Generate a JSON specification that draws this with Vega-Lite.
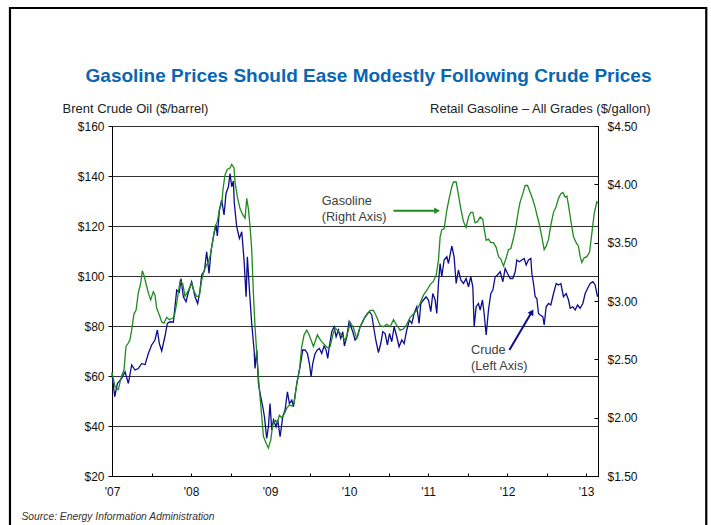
{
  "$schema": "https://vega.github.io/schema/vega-lite/v6.json",
  "width": 486,
  "height": 350,
  "autosize": {"type": "none"},
  "padding": {"left": 112, "top": 126, "right": 113, "bottom": 49},
  "background": "white",
  "config": {
    "font": "Liberation Sans",
    "view": {"stroke": "#000", "strokeWidth": 1},
    "axis": {
      "labelFont": "Liberation Sans",
      "labelFontSize": 12,
      "labelColor": "#111",
      "domainColor": "#000",
      "tickColor": "#000",
      "titleFont": "Liberation Sans",
      "titleFontWeight": "normal",
      "titleFontSize": 13,
      "titleColor": "#222"
    }
  },
  "title": {
    "text": "Gasoline Prices Should Ease Modestly Following Crude Prices",
    "font": "Liberation Sans",
    "fontSize": 19,
    "fontWeight": "bold",
    "color": "#0a66b2",
    "anchor": "middle",
    "frame": "group",
    "dx": 13.5,
    "offset": -79
  },
  "datasets": {
    "crude": [
      {"t": 2007.0, "usd": 61}, {"t": 2007.034, "usd": 51.7}, {"t": 2007.068, "usd": 57}, {"t": 2007.122, "usd": 59},
      {"t": 2007.165, "usd": 61.7}, {"t": 2007.207, "usd": 57}, {"t": 2007.249, "usd": 64.4}, {"t": 2007.291, "usd": 62.4},
      {"t": 2007.333, "usd": 63}, {"t": 2007.376, "usd": 65}, {"t": 2007.418, "usd": 64.5}, {"t": 2007.46, "usd": 69},
      {"t": 2007.502, "usd": 72.4}, {"t": 2007.544, "usd": 74.4}, {"t": 2007.574, "usd": 78.4}, {"t": 2007.599, "usd": 73},
      {"t": 2007.629, "usd": 70}, {"t": 2007.671, "usd": 76}, {"t": 2007.7, "usd": 81}, {"t": 2007.734, "usd": 81.7},
      {"t": 2007.776, "usd": 81.5}, {"t": 2007.797, "usd": 87.7}, {"t": 2007.819, "usd": 94.4}, {"t": 2007.852, "usd": 93.5},
      {"t": 2007.873, "usd": 99}, {"t": 2007.903, "usd": 91.7}, {"t": 2007.937, "usd": 89.7}, {"t": 2007.966, "usd": 93.4},
      {"t": 2008.008, "usd": 97.7}, {"t": 2008.051, "usd": 91.7}, {"t": 2008.084, "usd": 89}, {"t": 2008.114, "usd": 94.4},
      {"t": 2008.135, "usd": 100.4}, {"t": 2008.169, "usd": 102}, {"t": 2008.198, "usd": 109.7}, {"t": 2008.228, "usd": 101},
      {"t": 2008.253, "usd": 110}, {"t": 2008.283, "usd": 115.7}, {"t": 2008.316, "usd": 120.4}, {"t": 2008.333, "usd": 116},
      {"t": 2008.359, "usd": 126.4}, {"t": 2008.388, "usd": 130.4}, {"t": 2008.418, "usd": 124.4}, {"t": 2008.443, "usd": 133},
      {"t": 2008.473, "usd": 135.7}, {"t": 2008.494, "usd": 141}, {"t": 2008.515, "usd": 135.7}, {"t": 2008.536, "usd": 138},
      {"t": 2008.548, "usd": 129}, {"t": 2008.578, "usd": 119.7}, {"t": 2008.612, "usd": 115}, {"t": 2008.642, "usd": 117.7},
      {"t": 2008.671, "usd": 106.4}, {"t": 2008.697, "usd": 91.7}, {"t": 2008.713, "usd": 107.7}, {"t": 2008.739, "usd": 94.4},
      {"t": 2008.768, "usd": 81}, {"t": 2008.798, "usd": 70.4}, {"t": 2008.81, "usd": 63}, {"t": 2008.832, "usd": 70.4},
      {"t": 2008.853, "usd": 57}, {"t": 2008.882, "usd": 51.7}, {"t": 2008.908, "usd": 47.7}, {"t": 2008.929, "usd": 43.7},
      {"t": 2008.958, "usd": 35}, {"t": 2008.979, "usd": 39.7}, {"t": 2009.0, "usd": 49}, {"t": 2009.021, "usd": 38.4},
      {"t": 2009.043, "usd": 42.4}, {"t": 2009.076, "usd": 39.7}, {"t": 2009.097, "usd": 42.4}, {"t": 2009.127, "usd": 35.7},
      {"t": 2009.161, "usd": 43.7}, {"t": 2009.19, "usd": 46.4}, {"t": 2009.22, "usd": 53.7}, {"t": 2009.245, "usd": 49},
      {"t": 2009.275, "usd": 50.4}, {"t": 2009.296, "usd": 47.7}, {"t": 2009.317, "usd": 52.4}, {"t": 2009.346, "usd": 58.4},
      {"t": 2009.38, "usd": 63.7}, {"t": 2009.414, "usd": 70.4}, {"t": 2009.443, "usd": 70.4}, {"t": 2009.473, "usd": 69},
      {"t": 2009.498, "usd": 65}, {"t": 2009.519, "usd": 59.7}, {"t": 2009.54, "usd": 65}, {"t": 2009.57, "usd": 69},
      {"t": 2009.599, "usd": 70.4}, {"t": 2009.625, "usd": 71}, {"t": 2009.654, "usd": 69}, {"t": 2009.684, "usd": 72},
      {"t": 2009.709, "usd": 70.4}, {"t": 2009.73, "usd": 67}, {"t": 2009.751, "usd": 72}, {"t": 2009.781, "usd": 77.7},
      {"t": 2009.81, "usd": 79.7}, {"t": 2009.836, "usd": 75.7}, {"t": 2009.865, "usd": 78.4}, {"t": 2009.895, "usd": 75},
      {"t": 2009.92, "usd": 77.7}, {"t": 2009.941, "usd": 72}, {"t": 2009.971, "usd": 75.7}, {"t": 2010.0, "usd": 81.7},
      {"t": 2010.047, "usd": 77.7}, {"t": 2010.076, "usd": 74.4}, {"t": 2010.106, "usd": 75.7}, {"t": 2010.14, "usd": 79.7},
      {"t": 2010.173, "usd": 81.7}, {"t": 2010.203, "usd": 83.7}, {"t": 2010.232, "usd": 85}, {"t": 2010.258, "usd": 85.7},
      {"t": 2010.287, "usd": 84.4}, {"t": 2010.317, "usd": 78.4}, {"t": 2010.342, "usd": 73.7}, {"t": 2010.372, "usd": 69.4},
      {"t": 2010.401, "usd": 73}, {"t": 2010.427, "usd": 77.7}, {"t": 2010.456, "usd": 77}, {"t": 2010.486, "usd": 72.4},
      {"t": 2010.511, "usd": 77}, {"t": 2010.54, "usd": 73.7}, {"t": 2010.57, "usd": 79.7}, {"t": 2010.604, "usd": 75.7},
      {"t": 2010.633, "usd": 71.7}, {"t": 2010.667, "usd": 74.4}, {"t": 2010.697, "usd": 73}, {"t": 2010.73, "usd": 78.4},
      {"t": 2010.764, "usd": 82.4}, {"t": 2010.794, "usd": 81}, {"t": 2010.823, "usd": 85}, {"t": 2010.857, "usd": 87.7},
      {"t": 2010.886, "usd": 81}, {"t": 2010.908, "usd": 89}, {"t": 2010.941, "usd": 90.4}, {"t": 2010.975, "usd": 91.7},
      {"t": 2011.005, "usd": 90.4}, {"t": 2011.034, "usd": 85.7}, {"t": 2011.059, "usd": 93}, {"t": 2011.089, "usd": 90.4},
      {"t": 2011.11, "usd": 85}, {"t": 2011.131, "usd": 97}, {"t": 2011.152, "usd": 105}, {"t": 2011.173, "usd": 99.7},
      {"t": 2011.203, "usd": 106.4}, {"t": 2011.237, "usd": 107.7}, {"t": 2011.258, "usd": 105}, {"t": 2011.3, "usd": 112},
      {"t": 2011.329, "usd": 107.7}, {"t": 2011.355, "usd": 97}, {"t": 2011.384, "usd": 102.4}, {"t": 2011.414, "usd": 98.4},
      {"t": 2011.448, "usd": 97}, {"t": 2011.481, "usd": 99}, {"t": 2011.511, "usd": 95.7}, {"t": 2011.54, "usd": 99.7},
      {"t": 2011.566, "usd": 95.7}, {"t": 2011.583, "usd": 79.7}, {"t": 2011.608, "usd": 87.7}, {"t": 2011.637, "usd": 89},
      {"t": 2011.659, "usd": 86.4}, {"t": 2011.688, "usd": 90.4}, {"t": 2011.709, "usd": 85}, {"t": 2011.735, "usd": 76.4},
      {"t": 2011.764, "usd": 86.4}, {"t": 2011.794, "usd": 93}, {"t": 2011.819, "usd": 94.4}, {"t": 2011.849, "usd": 99.7},
      {"t": 2011.878, "usd": 100.4}, {"t": 2011.912, "usd": 101.7}, {"t": 2011.946, "usd": 97.7}, {"t": 2011.975, "usd": 103},
      {"t": 2012.005, "usd": 101}, {"t": 2012.038, "usd": 99}, {"t": 2012.072, "usd": 99}, {"t": 2012.102, "usd": 101.7},
      {"t": 2012.123, "usd": 106.4}, {"t": 2012.156, "usd": 105.7}, {"t": 2012.186, "usd": 106.4}, {"t": 2012.216, "usd": 107},
      {"t": 2012.241, "usd": 104.4}, {"t": 2012.27, "usd": 106.4}, {"t": 2012.3, "usd": 107}, {"t": 2012.313, "usd": 101},
      {"t": 2012.334, "usd": 97}, {"t": 2012.355, "usd": 91.7}, {"t": 2012.376, "usd": 91}, {"t": 2012.397, "usd": 85},
      {"t": 2012.418, "usd": 84.4}, {"t": 2012.452, "usd": 83.7}, {"t": 2012.469, "usd": 80.4}, {"t": 2012.494, "usd": 87.7},
      {"t": 2012.524, "usd": 89}, {"t": 2012.553, "usd": 88.4}, {"t": 2012.587, "usd": 93}, {"t": 2012.621, "usd": 97},
      {"t": 2012.65, "usd": 96.4}, {"t": 2012.68, "usd": 97}, {"t": 2012.713, "usd": 91.7}, {"t": 2012.747, "usd": 93},
      {"t": 2012.777, "usd": 90.4}, {"t": 2012.798, "usd": 87.1}, {"t": 2012.832, "usd": 87.7}, {"t": 2012.861, "usd": 86.4},
      {"t": 2012.891, "usd": 88.4}, {"t": 2012.924, "usd": 87.1}, {"t": 2012.958, "usd": 89}, {"t": 2012.988, "usd": 93},
      {"t": 2013.017, "usd": 95}, {"t": 2013.051, "usd": 97}, {"t": 2013.085, "usd": 97.7}, {"t": 2013.114, "usd": 96.4},
      {"t": 2013.144, "usd": 91.7}
    ],
    "gasoline": [
      {"t": 2007.0, "usd": 2.39}, {"t": 2007.038, "usd": 2.265}, {"t": 2007.08, "usd": 2.24}, {"t": 2007.122, "usd": 2.36},
      {"t": 2007.152, "usd": 2.41}, {"t": 2007.177, "usd": 2.61}, {"t": 2007.207, "usd": 2.64}, {"t": 2007.228, "usd": 2.67},
      {"t": 2007.249, "usd": 2.75}, {"t": 2007.278, "usd": 2.89}, {"t": 2007.304, "usd": 2.92}, {"t": 2007.333, "usd": 3.07},
      {"t": 2007.363, "usd": 3.15}, {"t": 2007.384, "usd": 3.26}, {"t": 2007.405, "usd": 3.22}, {"t": 2007.43, "usd": 3.15},
      {"t": 2007.46, "usd": 3.07}, {"t": 2007.489, "usd": 3.01}, {"t": 2007.523, "usd": 3.08}, {"t": 2007.544, "usd": 3.05},
      {"t": 2007.565, "usd": 2.94}, {"t": 2007.599, "usd": 2.88}, {"t": 2007.629, "usd": 2.82}, {"t": 2007.658, "usd": 2.81},
      {"t": 2007.692, "usd": 2.86}, {"t": 2007.726, "usd": 2.84}, {"t": 2007.755, "usd": 2.85}, {"t": 2007.785, "usd": 2.86},
      {"t": 2007.819, "usd": 2.98}, {"t": 2007.861, "usd": 3.17}, {"t": 2007.895, "usd": 3.15}, {"t": 2007.924, "usd": 3.04},
      {"t": 2007.966, "usd": 3.09}, {"t": 2008.008, "usd": 3.15}, {"t": 2008.038, "usd": 3.08}, {"t": 2008.072, "usd": 3.04},
      {"t": 2008.105, "usd": 3.04}, {"t": 2008.135, "usd": 3.18}, {"t": 2008.169, "usd": 3.27}, {"t": 2008.207, "usd": 3.32},
      {"t": 2008.24, "usd": 3.38}, {"t": 2008.274, "usd": 3.51}, {"t": 2008.304, "usd": 3.64}, {"t": 2008.333, "usd": 3.68},
      {"t": 2008.359, "usd": 3.78}, {"t": 2008.388, "usd": 3.84}, {"t": 2008.409, "usd": 3.98}, {"t": 2008.43, "usd": 4.08},
      {"t": 2008.46, "usd": 4.13}, {"t": 2008.494, "usd": 4.14}, {"t": 2008.515, "usd": 4.17}, {"t": 2008.544, "usd": 4.14},
      {"t": 2008.557, "usd": 4.02}, {"t": 2008.587, "usd": 3.89}, {"t": 2008.621, "usd": 3.79}, {"t": 2008.654, "usd": 3.74},
      {"t": 2008.684, "usd": 3.71}, {"t": 2008.705, "usd": 3.88}, {"t": 2008.726, "usd": 3.79}, {"t": 2008.747, "usd": 3.64},
      {"t": 2008.768, "usd": 3.44}, {"t": 2008.789, "usd": 3.07}, {"t": 2008.81, "usd": 2.78}, {"t": 2008.84, "usd": 2.47},
      {"t": 2008.865, "usd": 2.24}, {"t": 2008.895, "usd": 2.01}, {"t": 2008.916, "usd": 1.84}, {"t": 2008.95, "usd": 1.78},
      {"t": 2008.979, "usd": 1.74}, {"t": 2009.009, "usd": 1.81}, {"t": 2009.034, "usd": 1.94}, {"t": 2009.064, "usd": 1.98},
      {"t": 2009.093, "usd": 1.96}, {"t": 2009.118, "usd": 2.02}, {"t": 2009.148, "usd": 2.0}, {"t": 2009.178, "usd": 2.03},
      {"t": 2009.211, "usd": 2.08}, {"t": 2009.245, "usd": 2.11}, {"t": 2009.275, "usd": 2.1}, {"t": 2009.304, "usd": 2.12},
      {"t": 2009.338, "usd": 2.29}, {"t": 2009.372, "usd": 2.41}, {"t": 2009.401, "usd": 2.61}, {"t": 2009.431, "usd": 2.71},
      {"t": 2009.465, "usd": 2.75}, {"t": 2009.494, "usd": 2.71}, {"t": 2009.549, "usd": 2.61}, {"t": 2009.599, "usd": 2.71},
      {"t": 2009.642, "usd": 2.66}, {"t": 2009.684, "usd": 2.63}, {"t": 2009.726, "usd": 2.6}, {"t": 2009.76, "usd": 2.61},
      {"t": 2009.794, "usd": 2.71}, {"t": 2009.823, "usd": 2.77}, {"t": 2009.865, "usd": 2.74}, {"t": 2009.907, "usd": 2.71},
      {"t": 2009.95, "usd": 2.66}, {"t": 2009.992, "usd": 2.75}, {"t": 2010.013, "usd": 2.82}, {"t": 2010.055, "usd": 2.77},
      {"t": 2010.097, "usd": 2.68}, {"t": 2010.14, "usd": 2.78}, {"t": 2010.182, "usd": 2.84}, {"t": 2010.224, "usd": 2.88},
      {"t": 2010.266, "usd": 2.92}, {"t": 2010.308, "usd": 2.92}, {"t": 2010.351, "usd": 2.86}, {"t": 2010.393, "usd": 2.79},
      {"t": 2010.435, "usd": 2.78}, {"t": 2010.477, "usd": 2.8}, {"t": 2010.519, "usd": 2.78}, {"t": 2010.562, "usd": 2.84},
      {"t": 2010.604, "usd": 2.79}, {"t": 2010.646, "usd": 2.75}, {"t": 2010.688, "usd": 2.76}, {"t": 2010.73, "usd": 2.8},
      {"t": 2010.773, "usd": 2.86}, {"t": 2010.815, "usd": 2.89}, {"t": 2010.857, "usd": 2.92}, {"t": 2010.899, "usd": 2.98},
      {"t": 2010.941, "usd": 3.05}, {"t": 2010.983, "usd": 3.09}, {"t": 2011.026, "usd": 3.14}, {"t": 2011.068, "usd": 3.17},
      {"t": 2011.102, "usd": 3.22}, {"t": 2011.131, "usd": 3.35}, {"t": 2011.152, "usd": 3.55}, {"t": 2011.173, "usd": 3.61},
      {"t": 2011.203, "usd": 3.62}, {"t": 2011.237, "usd": 3.78}, {"t": 2011.27, "usd": 3.89}, {"t": 2011.3, "usd": 3.98},
      {"t": 2011.321, "usd": 4.02}, {"t": 2011.355, "usd": 4.02}, {"t": 2011.384, "usd": 3.91}, {"t": 2011.414, "usd": 3.79},
      {"t": 2011.448, "usd": 3.68}, {"t": 2011.481, "usd": 3.63}, {"t": 2011.511, "usd": 3.72}, {"t": 2011.54, "usd": 3.76},
      {"t": 2011.566, "usd": 3.76}, {"t": 2011.595, "usd": 3.67}, {"t": 2011.625, "usd": 3.68}, {"t": 2011.659, "usd": 3.72},
      {"t": 2011.692, "usd": 3.7}, {"t": 2011.709, "usd": 3.62}, {"t": 2011.735, "usd": 3.52}, {"t": 2011.764, "usd": 3.53},
      {"t": 2011.794, "usd": 3.5}, {"t": 2011.827, "usd": 3.5}, {"t": 2011.861, "usd": 3.46}, {"t": 2011.891, "usd": 3.38},
      {"t": 2011.92, "usd": 3.36}, {"t": 2011.954, "usd": 3.3}, {"t": 2011.988, "usd": 3.37}, {"t": 2012.017, "usd": 3.44},
      {"t": 2012.047, "usd": 3.45}, {"t": 2012.081, "usd": 3.54}, {"t": 2012.114, "usd": 3.65}, {"t": 2012.144, "usd": 3.78},
      {"t": 2012.165, "usd": 3.85}, {"t": 2012.199, "usd": 3.92}, {"t": 2012.228, "usd": 3.99}, {"t": 2012.258, "usd": 3.99},
      {"t": 2012.292, "usd": 3.93}, {"t": 2012.325, "usd": 3.87}, {"t": 2012.355, "usd": 3.8}, {"t": 2012.384, "usd": 3.72},
      {"t": 2012.41, "usd": 3.65}, {"t": 2012.439, "usd": 3.55}, {"t": 2012.469, "usd": 3.44}, {"t": 2012.494, "usd": 3.47},
      {"t": 2012.524, "usd": 3.53}, {"t": 2012.553, "usd": 3.65}, {"t": 2012.587, "usd": 3.76}, {"t": 2012.621, "usd": 3.81},
      {"t": 2012.65, "usd": 3.88}, {"t": 2012.68, "usd": 3.92}, {"t": 2012.705, "usd": 3.93}, {"t": 2012.735, "usd": 3.89},
      {"t": 2012.756, "usd": 3.9}, {"t": 2012.777, "usd": 3.82}, {"t": 2012.806, "usd": 3.69}, {"t": 2012.84, "usd": 3.55},
      {"t": 2012.874, "usd": 3.5}, {"t": 2012.903, "usd": 3.47}, {"t": 2012.924, "usd": 3.38}, {"t": 2012.946, "usd": 3.33},
      {"t": 2012.975, "usd": 3.37}, {"t": 2013.009, "usd": 3.38}, {"t": 2013.043, "usd": 3.42}, {"t": 2013.072, "usd": 3.58},
      {"t": 2013.102, "usd": 3.75}, {"t": 2013.135, "usd": 3.85}, {"t": 2013.15, "usd": 3.84}
    ]
  },
  "layer": [
    {
      "layer": [
        {
          "data": {"name": "crude"},
          "mark": {"type": "line", "color": "#0c0c8c", "strokeWidth": 1.3},
          "encoding": {
            "x": {
              "field": "t",
              "type": "quantitative",
              "scale": {"domain": [2007, 2013.15], "nice": false, "zero": false},
              "axis": {
                "values": [2007, 2007.25, 2007.5, 2007.75, 2008, 2008.25, 2008.5, 2008.75, 2009, 2009.25, 2009.5, 2009.75, 2010, 2010.25, 2010.5, 2010.75, 2011, 2011.25, 2011.5, 2011.75, 2012, 2012.25, 2012.5, 2012.75, 2013],
                "labelExpr": "datum.value % 1 == 0 ? \"'\" + substring(toString(datum.value), 2, 4) : ''",
                "labelFlush": false,
                "labelOverlap": false,
                "grid": false,
                "tickSize": -3,
                "labelPadding": 13,
                "title": "Source: Energy Information Administration",
                "titleFontStyle": "italic",
                "titleFontSize": 10.3,
                "titleColor": "#333",
                "titleAlign": "left",
                "titleBaseline": "middle",
                "titleX": -91,
                "titleY": 40.7
              }
            },
            "y": {
              "field": "usd",
              "type": "quantitative",
              "scale": {"domain": [20, 160], "nice": false, "zero": false},
              "axis": {
                "values": [20, 40, 60, 80, 100, 120, 140, 160],
                "format": "$.0f",
                "grid": true,
                "gridColor": "#333",
                "gridWidth": 1,
                "tickSize": 4,
                "labelPadding": 4,
                "title": "Brent Crude Oil ($/barrel)",
                "titleAngle": 0,
                "titleAlign": "left",
                "titleBaseline": "middle",
                "titleX": -50,
                "titleY": -18
              }
            }
          }
        },
        {
          "data": {"values": [{}]},
          "mark": {"type": "rect", "filled": false, "color": "#000", "strokeWidth": 2.2},
          "encoding": {
            "x": {"datum": 2005.709, "type": "quantitative"},
            "x2": {"datum": 2014.52},
            "y": {"datum": 207.2, "type": "quantitative"},
            "y2": {"datum": -5}
          }
        },
        {
          "data": {"values": [{}]},
          "mark": {"type": "text", "align": "left", "baseline": "middle", "lineHeight": 16, "fontSize": 12.7, "color": "#404040"},
          "encoding": {
            "x": {"datum": 2009.654, "type": "quantitative"},
            "y": {"datum": 130, "type": "quantitative"},
            "text": {"value": ["Gasoline", "(Right Axis)"]}
          }
        },
        {
          "data": {"values": [{}]},
          "mark": {"type": "text", "align": "left", "baseline": "middle", "lineHeight": 16, "fontSize": 12.7, "color": "#404040"},
          "encoding": {
            "x": {"datum": 2011.544, "type": "quantitative"},
            "y": {"datum": 70.4, "type": "quantitative"},
            "text": {"value": ["Crude", "(Left Axis)"]}
          }
        },
        {
          "data": {"values": [{}]},
          "mark": {"type": "rule", "color": "#1f8a1f", "strokeWidth": 2},
          "encoding": {
            "x": {"datum": 2010.561, "type": "quantitative"},
            "x2": {"datum": 2011.12},
            "y": {"datum": 126.1, "type": "quantitative"},
            "y2": {"datum": 126.1}
          }
        },
        {
          "data": {"values": [{}]},
          "mark": {"type": "point", "shape": "triangle-right", "filled": true, "size": 45, "color": "#1f8a1f", "opacity": 1},
          "encoding": {
            "x": {"datum": 2011.114, "type": "quantitative"},
            "y": {"datum": 126.1, "type": "quantitative"}
          }
        },
        {
          "data": {"values": [{}]},
          "mark": {"type": "rule", "color": "#0c0c8c", "strokeWidth": 2},
          "encoding": {
            "x": {"datum": 2012.029, "type": "quantitative"},
            "x2": {"datum": 2012.31},
            "y": {"datum": 70.4, "type": "quantitative"},
            "y2": {"datum": 85.5}
          }
        },
        {
          "data": {"values": [{}]},
          "mark": {"type": "point", "shape": "triangle-up", "angle": 31, "filled": true, "size": 45, "color": "#0c0c8c", "opacity": 1},
          "encoding": {
            "x": {"datum": 2012.314, "type": "quantitative"},
            "y": {"datum": 85.6, "type": "quantitative"}
          }
        }
      ]
    },
    {
      "data": {"name": "gasoline"},
      "mark": {"type": "line", "color": "#1f8a1f", "strokeWidth": 1.3},
      "encoding": {
        "x": {"field": "t", "type": "quantitative"},
        "y": {
          "field": "usd",
          "type": "quantitative",
          "scale": {"domain": [1.5, 4.5], "nice": false, "zero": false},
          "axis": {
            "orient": "right",
            "values": [1.5, 2, 2.5, 3, 3.5, 4, 4.5],
            "format": "$.2f",
            "grid": false,
            "tickSize": -4,
            "labelPadding": 13,
            "title": "Retail Gasoline – All Grades ($/gallon)",
            "titleAngle": 0,
            "titleAlign": "right",
            "titleBaseline": "middle",
            "titleX": 52,
            "titleY": -18
          }
        }
      }
    }
  ],
  "resolve": {"scale": {"y": "independent"}}
}
